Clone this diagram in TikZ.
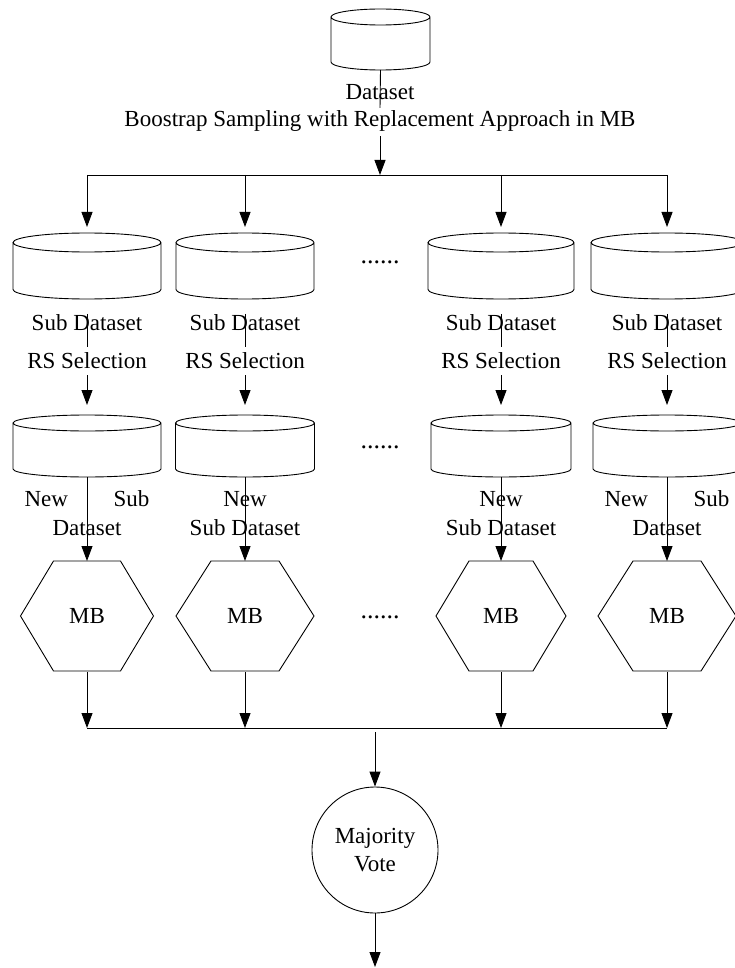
\documentclass[tikz,border=0pt]{standalone}
\usepackage{fontspec}
\setmainfont{Liberation Serif}
\usetikzlibrary{arrows.meta,calc}
\newcommand\lblfont{\fontsize{23}{29}\selectfont}
\newcommand\dotfont{\fontsize{26}{29}\selectfont}
\newcommand\cylout[3]{%
  \draw[shp] ([yshift=-#3]#1.north west) -- ([yshift=#3]#1.south west)
    arc[start angle=180,end angle=360,x radius=#2,y radius=#3]
    -- ([yshift=-#3]#1.north east)
    arc[start angle=0,end angle=360,x radius=#2,y radius=#3];}
\newcommand\hexout[2]{%
  \draw[shp] (#1.west) -- ([xshift=#2]#1.north west) -- ([xshift=-#2]#1.north east)
    -- (#1.east) -- ([xshift=-#2]#1.south east) -- ([xshift=#2]#1.south west) -- cycle;}
\tikzset{
  shp/.style={line width=0.9pt},
  ln/.style={line width=0.9pt},
  arr/.style={line width=0.9pt,-{Triangle[length=15pt,width=11pt]}},
  box/.style={inner sep=0pt,outer sep=0pt},
  lbl/.style={font=\lblfont,inner sep=0pt,anchor=base},
  lbltwo/.style={font=\lblfont,inner sep=0pt,anchor=north,align=center},
  dotlbl/.style={font=\dotfont,inner sep=0pt,anchor=center},
}
\begin{document}
\begin{tikzpicture}[x=1pt,y=-1pt]
\useasboundingbox (0,0) rectangle (735,968);

% top dataset
\node[box,minimum width=99pt,minimum height=61pt] (d0) at (380.5,39.5) {};
\cylout{d0}{49.5pt}{8pt}
\node[lbl] (dsl) at (380,100) {Dataset};
\node[lbl] (bsl) at (380,127) {Boostrap Sampling with Replacement Approach in MB};
\draw[ln] (d0.south) -- ([yshift=3pt]bsl.north);
\coordinate (sp) at (380,175);
\draw[arr,shorten <=4pt] (bsl.south) -- (sp);

% row 1
\foreach \i/\x/\w in {1/87/148,2/245/138,3/501/146,4/667/152}{
  \node[box,minimum width=\w pt,minimum height=66pt] (a\i) at (\x,266) {};
  \pgfmathsetmacro\hw{\w/2}
  \cylout{a\i}{\hw pt}{9.5pt}
  \node[lbl] (sd\i) at (\x,330) {Sub Dataset};
  \node[lbl] (rs\i) at (\x,368) {RS Selection};
}
\draw[ln] (sp -| a1) -- (sp -| a4);
\foreach \i in {1,...,4}{
  \draw[arr,shorten >=6pt] (sp -| a\i) -- (a\i.north);
  \draw[ln] (sd\i.north) -- ([yshift=5pt]rs\i.north);
}

% row 2
\foreach \i/\x/\w in {1/87/148,2/245/139,3/501/140,4/667/148}{
  \node[box,minimum width=\w pt,minimum height=62pt] (b\i) at (\x,446) {};
  \pgfmathsetmacro\hw{\w/2}
  \cylout{b\i}{\hw pt}{8pt}
}
\foreach \i in {1,...,4}{
  \draw[arr,shorten <=7pt,shorten >=10pt] (rs\i.south) -- (b\i.north);
}
\node[lbltwo] (ns1) at (87,490.3) {\makebox[125pt][s]{New\hfill Sub}\\Dataset};
\node[lbltwo] (ns2) at (245,490.8) {New\\Sub Dataset};
\node[lbltwo] (ns3) at (501,490.8) {New\\Sub Dataset};
\node[lbltwo] (ns4) at (667,490.3) {\makebox[125pt][s]{New\hfill Sub}\\Dataset};

% hexagons
\foreach \i/\x/\w/\s in {1/87/133/33,2/245/138/35,3/501/130/33,4/667/138/35}{
  \node[box,font=\lblfont,minimum width=\w pt,minimum height=110pt] (m\i) at (\x,616) {MB};
  \hexout{m\i}{\s pt}
}
\foreach \i in {1,...,4}{
  \draw[arr] (b\i.south) -- (m\i.north);
}

% dots
\node[dotlbl] (dt1) at (380,262) {......};
\node[dotlbl] (dt2) at (380,447) {......};
\node[dotlbl] (dt3) at (380,617) {......};

% join
\coordinate (jn) at (375,728);
\draw[ln] (jn -| m1) -- (jn -| m4);
\foreach \i in {1,...,4}{
  \draw[arr,shorten <=1pt] (m\i.south) -- (jn -| m\i);
}

% vote
\node[circle,draw,shp,minimum size=126pt,inner sep=0pt,align=center,font=\fontsize{23}{28}\selectfont] (mv) at (375,850) {Majority\\Vote};
\draw[arr,shorten <=4pt] (jn) -- (mv.north);
\coordinate (out) at (375,967);
\draw[arr] (mv.south) -- (out);
\end{tikzpicture}
\end{document}
